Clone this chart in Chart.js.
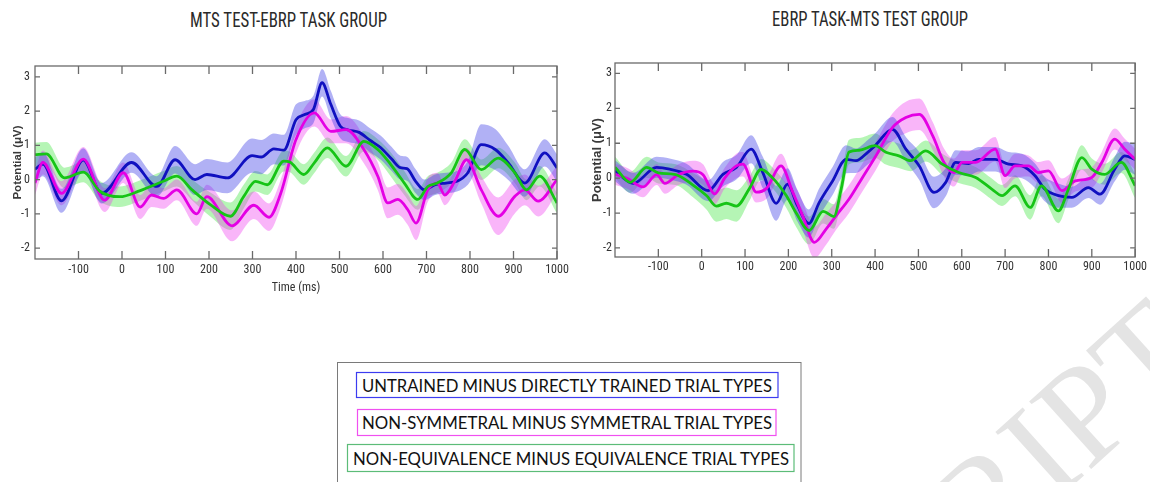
<!DOCTYPE html>
<html><head><meta charset="utf-8">
<script src="https://cdn.jsdelivr.net/npm/chart.js@4.4.1/dist/chart.umd.min.js"></script>
<style>
html,body{margin:0;padding:0;background:#fff;}
#page{position:relative;width:1150px;height:482px;overflow:hidden;background:#fff;}
#deco{position:absolute;left:0;top:0;z-index:0;}
.cw{position:absolute;top:0;width:575px;height:310px;z-index:1;}
</style></head><body>
<div id="page">
<svg id="deco" width="1150" height="482" xmlns="http://www.w3.org/2000/svg"></svg>
<div class="cw" style="left:0"><canvas id="c1"></canvas></div>
<div class="cw" style="left:575px"><canvas id="c2"></canvas></div>
</div>
<script>
// ---------- text ----------
const CHART_TITLES = ['MTS TEST-EBRP TASK GROUP', 'EBRP TASK-MTS TEST GROUP'];
const SERIES_NAMES = ['UNTRAINED MINUS DIRECTLY TRAINED TRIAL TYPES',
                      'NON-SYMMETRAL MINUS SYMMETRAL TRIAL TYPES',
                      'NON-EQUIVALENCE MINUS EQUIVALENCE TRIAL TYPES'];
const Y_AXIS_TITLE = 'Potential (\u03BCV)';
const X_AXIS_TITLE = 'Time (ms)';
const WATERMARK = 'ACCEPTED MANUSCRIPT';

// ---------- axes ----------
const X_TICKS = [-100, 0, 100, 200, 300, 400, 500, 600, 700, 800, 900, 1000];
const Y_TICKS = [-2, -1, 0, 1, 2, 3];
const X_RANGE = [-200, 1000];
const Y_RANGE_L = [-2.32, 3.32];
const Y_RANGE_R = [-2.26, 3.30];

// ---------- left chart: MTS TEST-EBRP TASK GROUP ----------
const L_BLUE_T = [-200,-182,-139,-89,-47,22,80,122,168,195,242,299,320,349,372,400,420,440,460,480,502,520,545,570,595,620,640,655,675,695,720,745,770,795,826,858,888,926,972,1000];
const L_BLUE_V = [0.3,0.45,-0.62,0.57,-0.4,0.5,-0.2,0.58,0.0,0.15,0.05,0.7,0.66,0.9,0.86,1.75,1.9,2.05,2.83,2.2,1.56,1.45,1.38,1.15,0.93,0.6,0.35,0.32,-0.05,-0.3,-0.15,-0.1,-0.05,0.2,1.02,0.88,0.49,-0.1,0.78,0.34];
const L_BLUE_E = [0.35,0.35,0.35,0.35,0.3,0.3,0.3,0.4,0.45,0.45,0.45,0.5,0.5,0.45,0.45,0.45,0.4,0.4,0.4,0.4,0.35,0.35,0.35,0.35,0.35,0.35,0.35,0.35,0.35,0.3,0.3,0.3,0.3,0.35,0.6,0.6,0.5,0.4,0.4,0.4];

const L_MAG_T = [-200,-182,-139,-89,-40,3,42,68,95,126,172,195,253,303,338,365,400,442,480,515,556,588,611,634,657,676,703,725,742,765,792,826,865,903,926,957,1000];
const L_MAG_V = [-0.1,0.5,-0.4,0.6,-0.6,0.2,-0.8,-0.45,-0.55,-0.3,-1.0,-0.5,-1.35,-0.75,-1.1,-0.4,1.17,1.95,1.41,1.46,0.88,0.1,-0.68,-0.58,-0.88,-1.27,-0.3,-0.1,-0.45,-0.05,0.58,-0.3,-1.07,-0.49,-0.3,-0.63,0.0];
const L_MAG_E = [0.35,0.35,0.35,0.35,0.35,0.3,0.35,0.35,0.3,0.3,0.35,0.35,0.45,0.4,0.4,0.4,0.4,0.4,0.35,0.4,0.4,0.4,0.45,0.45,0.45,0.5,0.35,0.3,0.3,0.3,0.35,0.4,0.55,0.5,0.45,0.45,0.4];

const L_GRN_T = [-200,-174,-132,-89,-51,-5,42,95,126,161,203,249,280,307,334,372,385,418,442,472,515,556,588,618,649,680,703,725,757,788,826,865,903,930,960,1000];
const L_GRN_V = [0.73,0.75,0.05,0.22,-0.34,-0.5,-0.32,-0.05,0.1,-0.3,-0.73,-1.07,-0.49,-0.05,-0.15,0.54,0.52,0.15,0.49,0.93,0.39,1.12,0.88,0.44,-0.1,-0.58,-0.2,-0.1,0.2,0.88,0.29,0.63,0.2,-0.3,0.1,-0.68];
const L_GRN_E = [0.35,0.35,0.3,0.3,0.3,0.3,0.3,0.3,0.3,0.3,0.35,0.4,0.35,0.3,0.3,0.3,0.3,0.3,0.3,0.3,0.3,0.3,0.3,0.35,0.35,0.3,0.3,0.3,0.3,0.3,0.3,0.3,0.3,0.3,0.3,0.3];

// ---------- right chart: EBRP TASK-MTS TEST GROUP ----------
const R_BLUE_T = [-200,-158,-104,-74,-35,15,49,80,114,141,172,198,221,247,271,302,333,356,383,400,440,471,502,536,563,586,616,639,677,708,739,769,792,823,854,892,919,953,976,1000];
const R_BLUE_V = [0.21,-0.15,0.31,0.26,0.11,-0.36,0.11,0.31,0.83,0.16,-0.72,-0.17,-0.79,-1.3,-0.7,-0.08,0.54,0.5,0.74,0.93,1.4,0.83,0.35,-0.41,-0.12,0.45,0.42,0.54,0.54,0.4,0.35,0.07,-0.32,-0.5,-0.55,-0.27,-0.46,0.26,0.64,0.54];
const R_BLUE_E = [0.3,0.3,0.3,0.3,0.3,0.3,0.35,0.35,0.4,0.45,0.5,0.45,0.45,0.4,0.4,0.4,0.4,0.35,0.35,0.35,0.35,0.35,0.4,0.45,0.4,0.35,0.35,0.35,0.35,0.35,0.35,0.35,0.35,0.35,0.3,0.3,0.3,0.35,0.4,0.45];

const R_MAG_T = [-200,-173,-135,-104,-85,-54,-20,3,30,53,80,95,126,149,183,210,233,260,287,310,340,370,400,440,471,502,533,559,582,601,632,677,700,723,754,777,800,831,862,900,923,953,976,1000];
const R_MAG_V = [0.11,0.0,-0.25,0.1,-0.15,0.1,0.2,0.1,-0.45,0.0,0.35,0.4,-0.4,-0.3,0.35,-0.4,-1.08,-1.84,-1.46,-1.08,-0.6,0.0,0.6,1.45,1.74,1.83,1.21,0.45,0.16,0.45,0.45,0.83,0.07,0.35,0.35,0.16,0.21,-0.36,-0.08,0.02,0.45,1.12,0.83,0.54];
const R_MAG_E = [0.3,0.3,0.3,0.3,0.3,0.3,0.3,0.3,0.3,0.3,0.35,0.35,0.3,0.3,0.35,0.35,0.4,0.45,0.45,0.4,0.4,0.4,0.4,0.4,0.45,0.45,0.4,0.4,0.4,0.35,0.35,0.35,0.35,0.35,0.3,0.3,0.3,0.35,0.3,0.3,0.3,0.3,0.3,0.3];

const R_GRN_T = [-200,-165,-127,-100,-60,-20,11,34,57,80,110,137,164,195,218,248,280,305,322,340,363,400,425,455,482,517,555,593,632,670,693,723,758,784,823,846,877,900,930,968,1000];
const R_GRN_V = [0.31,-0.12,0.31,0.15,0.1,-0.2,-0.5,-0.8,-0.72,-0.8,-0.3,0.25,0.0,-0.5,-1.0,-1.5,-0.95,-1.1,-0.3,0.75,0.8,0.93,0.74,0.64,0.5,0.78,0.4,0.16,0.02,-0.32,-0.5,-0.22,-0.84,-0.22,-0.94,-0.32,0.59,0.26,0.11,0.45,-0.22];
const R_GRN_E = [0.3,0.3,0.3,0.3,0.3,0.35,0.4,0.45,0.45,0.45,0.35,0.3,0.3,0.35,0.4,0.4,0.35,0.35,0.35,0.35,0.35,0.35,0.35,0.35,0.3,0.3,0.3,0.3,0.3,0.3,0.3,0.3,0.35,0.3,0.35,0.3,0.35,0.3,0.3,0.3,0.35];

// ---------- styles ----------
const LINE_COLORS = ['#1010c0', '#e400e4', '#16c416'];
const BAND_COLORS = ['rgba(60,60,230,0.40)', 'rgba(240,60,240,0.38)', 'rgba(60,230,60,0.38)'];
const BOX_COLORS  = ['#3c3cf0', '#f050f0', '#5cbc78'];
const NARROW = "'Roboto Condensed', 'DejaVu Sans Condensed', sans-serif";

// ---------- decorations (titles, legend, watermark) ----------
const svg = document.getElementById('deco');
const NS = 'http://www.w3.org/2000/svg';
function el(tag, attrs, text) {
  const e = document.createElementNS(NS, tag);
  for (const k in attrs) e.setAttribute(k, attrs[k]);
  if (text !== undefined) e.textContent = text;
  svg.appendChild(e);
  return e;
}
el('text', {x:1209, y:363, 'text-anchor':'end', transform:'rotate(-42 1209 363)',
  'font-family':"'Liberation Serif', serif", 'font-size':140, fill:'#e4e4e4'}, WATERMARK);
el('text', {x:190, y:27, textLength:197, lengthAdjust:'spacingAndGlyphs', 'font-family':NARROW,
  'font-size':20, fill:'#2a2a2a'}, CHART_TITLES[0]);
el('text', {x:772, y:26, textLength:196, lengthAdjust:'spacingAndGlyphs', 'font-family':NARROW,
  'font-size':20, fill:'#2a2a2a'}, CHART_TITLES[1]);
el('rect', {x:337.5, y:362.5, width:463.5, height:150, fill:'none', stroke:'#7a7a7a', 'stroke-width':1});
const LEG_BOX = [[356.5,372.5,421.5,25],[357.5,409.5,418.5,26],[347.5,444.5,446.5,27]];
const LEG_TXT = [[362,392,410],[362,428.5,410],[353,465,436]];
SERIES_NAMES.forEach((name, i) => {
  const b = LEG_BOX[i], t = LEG_TXT[i];
  el('rect', {x:b[0], y:b[1], width:b[2], height:b[3], fill:'none', stroke:BOX_COLORS[i], 'stroke-width':1.2});
  el('text', {x:t[0], y:t[1], textLength:t[2], lengthAdjust:'spacingAndGlyphs',
    'font-family':"Lato, 'Open Sans', sans-serif", 'font-size':16.5, fill:'#111'}, name);
});

// ---------- charts ----------
const boxPlugin = {
  id: 'matlabBox',
  afterDatasetsDraw(chart) {
    const {ctx, chartArea: a, scales: {x, y}} = chart;
    ctx.save();
    ctx.strokeStyle = '#6a6a6a';
    ctx.lineWidth = 1.3;
    ctx.strokeRect(a.left, a.top, a.right - a.left, a.bottom - a.top);
    ctx.beginPath();
    X_TICKS.forEach(v => {
      const px = x.getPixelForValue(v);
      ctx.moveTo(px, a.bottom); ctx.lineTo(px, a.bottom - 8);
      ctx.moveTo(px, a.top); ctx.lineTo(px, a.top + 8);
    });
    Y_TICKS.forEach(v => {
      const py = y.getPixelForValue(v);
      ctx.moveTo(a.left, py); ctx.lineTo(a.left + 5, py);
      ctx.moveTo(a.right, py); ctx.lineTo(a.right - 5, py);
    });
    ctx.stroke();
    ctx.restore();
  }
};

function pts(T, V, E, sign) {
  return T.map((t, k) => ({x: t, y: V[k] + sign * (E ? E[k] : 0)}));
}

function makeChart(id, series, yRange, cfg) {
  const datasets = [];
  series.forEach((s, i) => {
    datasets.push({data: pts(s[0], s[1], s[2], 1), fill: '+1', backgroundColor: BAND_COLORS[i],
      borderColor: 'rgba(0,0,0,0)', borderWidth: 0, pointRadius: 0, cubicInterpolationMode: 'monotone', order: 10});
    datasets.push({data: pts(s[0], s[1], s[2], -1), fill: false, backgroundColor: 'rgba(0,0,0,0)',
      borderColor: 'rgba(0,0,0,0)', borderWidth: 0, pointRadius: 0, cubicInterpolationMode: 'monotone', order: 10});
  });
  series.forEach((s, i) => {
    datasets.push({data: pts(s[0], s[1], null, 0), fill: false, borderColor: LINE_COLORS[i],
      borderWidth: 2.8, pointRadius: 0, cubicInterpolationMode: 'monotone', order: 3 - i});
  });
  return new Chart(document.getElementById(id), {
    type: 'line',
    data: {datasets},
    plugins: [boxPlugin],
    options: {
      responsive: true, maintainAspectRatio: false, animation: false,
      events: [],
      layout: {padding: {left: 0, right: cfg.pr, top: cfg.pt, bottom: 0}},
      plugins: {legend: {display: false}, tooltip: {enabled: false}, title: {display: false}},
      scales: {
        x: {
          type: 'linear', min: X_RANGE[0], max: X_RANGE[1],
          afterBuildTicks: sc => { sc.ticks = X_TICKS.map(v => ({value: v})); },
          afterFit: sc => { sc.height = cfg.xh; },
          grid: {display: false, drawTicks: false},
          border: {display: false},
          ticks: {autoSkip: false, maxRotation: 0, padding: cfg.xtp, color: '#333',
                  font: {family: NARROW, size: 12}, callback: v => String(v)},
          title: {display: cfg.xTitle, text: X_AXIS_TITLE, color: '#333',
                  font: {family: NARROW, size: 12}, padding: {top: 0, bottom: 15}}
        },
        y: {
          type: 'linear', min: yRange[0], max: yRange[1],
          afterBuildTicks: sc => { sc.ticks = Y_TICKS.map(v => ({value: v})); },
          afterFit: sc => { sc.width = cfg.yw; },
          grid: {display: false, drawTicks: false},
          border: {display: false},
          ticks: {padding: cfg.ytp, color: '#333', font: {family: NARROW, size: 12}, callback: v => String(v)},
          title: {display: true, text: Y_AXIS_TITLE, color: '#3a3a3a',
                  font: {family: "'Liberation Sans', Arial, sans-serif", size: cfg.yts, weight: 'bold'},
                  padding: {top: cfg.ytitlePad, bottom: 0}}
        }
      }
    }
  });
}

Chart.defaults.font.family = NARROW;

makeChart('c1', [[L_BLUE_T, L_BLUE_V, L_BLUE_E], [L_MAG_T, L_MAG_V, L_MAG_E], [L_GRN_T, L_GRN_V, L_GRN_E]],
  Y_RANGE_L, {yw: 35, pt: 66, pr: 18, xh: 51, xTitle: true, xtp: 4, ytp: 5, yts: 11.5, ytitlePad: 10.6});
makeChart('c2', [[R_BLUE_T, R_BLUE_V, R_BLUE_E], [R_MAG_T, R_MAG_V, R_MAG_E], [R_GRN_T, R_GRN_V, R_GRN_E]],
  Y_RANGE_R, {yw: 40, pt: 63, pr: 13, xh: 53, xTitle: false, xtp: 3, ytp: 3, yts: 13, ytitlePad: 14.5});
</script>
</body></html>
